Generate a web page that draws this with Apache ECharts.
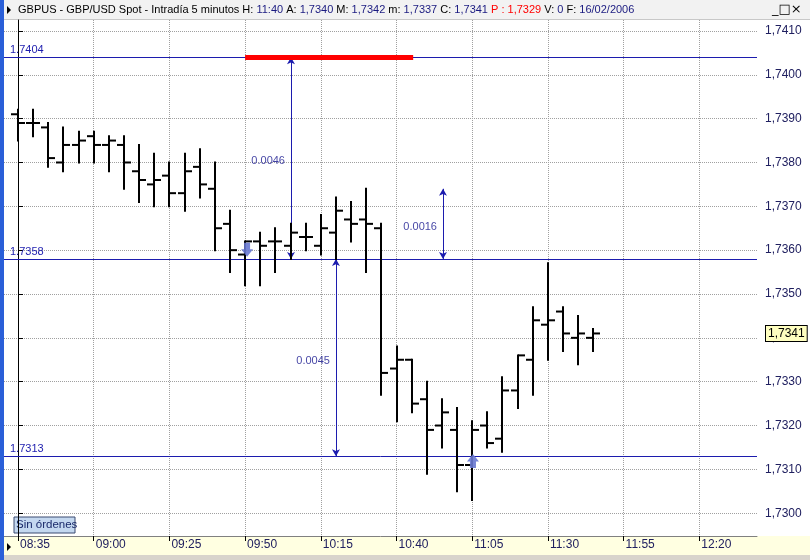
<!DOCTYPE html>
<html><head><meta charset="utf-8">
<script src="https://cdn.jsdelivr.net/npm/echarts@6/dist/echarts.min.js"></script>
<style>html,body{margin:0;padding:0;background:#fff}#c{width:810px;height:560px}</style>
</head><body><div id="c"></div>
<script>
// ---- data ----
const times = ['08:35','08:40','08:45','08:50','08:55','09:00','09:05','09:10','09:15','09:20',
  '09:25','09:30','09:35','09:40','09:45','09:50','09:55','10:00','10:05','10:10',
  '10:15','10:20','10:25','10:30','10:35','10:40','10:45','10:50','10:55','11:00',
  '11:05','11:10','11:15','11:20','11:25','11:30','11:35','11:40','11:45'];
const openP  = [1.7391,1.7389,1.7388,1.7380,1.7384,1.7386,1.7384,1.7384,1.7378,1.7375,
  1.7377,1.7373,1.7379,1.7374,1.7366,1.7359,1.7362,1.7362,1.7361,1.7363,
  1.7361,1.7364,1.7367,1.7367,1.7365,1.7333,1.7335,1.7326,1.7320,1.7319,
  1.7311,1.7320,1.7317,1.7328,1.7335,1.7343,1.7346,1.7340,1.7340];
const highP  = [1.7392,1.7392,1.7389,1.7388,1.7387,1.7387,1.7386,1.7386,1.7384,1.7382,
  1.7380,1.7382,1.7383,1.7380,1.7369,1.7362,1.7364,1.7365,1.7366,1.7366,
  1.7368,1.7372,1.7371,1.7374,1.7366,1.7338,1.7335,1.7330,1.7326,1.7324,
  1.7321,1.7323,1.7331,1.7336,1.7347,1.7357,1.7347,1.7345,1.7342];
const lowP   = [1.7385,1.7386,1.7379,1.7378,1.7380,1.7380,1.7378,1.7374,1.7371,1.7370,
  1.7370,1.7369,1.7372,1.7360,1.7355,1.7352,1.7352,1.7355,1.7358,1.7360,
  1.7359,1.7358,1.7362,1.7355,1.7327,1.7321,1.7323,1.7309,1.7315,1.7305,
  1.7303,1.7315,1.7314,1.7324,1.7327,1.7335,1.7337,1.7334,1.7337];
const closeP = [1.7389,1.7389,1.7381,1.7384,1.7385,1.7384,1.7385,1.7380,1.7376,1.7376,
  1.7373,1.7378,1.7375,1.7365,1.7360,1.7362,1.7361,1.7362,1.7364,1.7363,
  1.7365,1.7369,1.7366,1.7366,1.7332,1.7335,1.7325,1.7319,1.7323,1.7311,
  1.7319,1.7316,1.7328,1.7336,1.7344,1.7344,1.7341,1.7341,1.7341];
const xTickIdx    = [0,5,10,15,20,25,30,35,40,45];
const xTickLabels = ['08:35','09:00','09:25','09:50','10:15','10:40','11:05','11:30','11:55','12:20'];
const yTicks = [1.7300,1.7310,1.7320,1.7330,1.7340,1.7350,1.7360,1.7370,1.7380,1.7390,1.7400,1.7410];
const levelValues = [1.7404,1.7358,1.7313];
const levelLabels = ['1.7404','1.7358','1.7313'];
const redFromIdx = 15, redToIdx = 26.1, redPrice = 1.7404;
const measureIdx   = [18.03, 28.07, 21.0];
const measureFrom  = [1.7404, 1.7374, 1.7358];
const measureTo    = [1.7358, 1.7358, 1.7313];
const measureText  = ['0.0046','0.0016','0.0045'];
const measureLblY  = [1.73804, 1.73653, 1.73347];
const orderDownIdx = 15.13, orderDownPrice = 1.73601;
const orderUpIdx = 30.05, orderUpPrice = 1.73119;
const lastPrice = 1.7341;

// ---- chart ----
const chart = echarts.init(document.getElementById('c'), null, {renderer:'canvas'});
const NAVY = '#1c1cae', LBL = '#202060';
const FN = 'Liberation Sans Narrow, Liberation Sans, Arial';
const ohlc = times.map((t,i)=>[i, openP[i], highP[i], lowP[i], closeP[i]]);

function renderItem(params, api){
  const x = api.value(0);
  const o = api.coord([x, api.value(1)]);
  const h = api.coord([x, api.value(2)]);
  const l = api.coord([x, api.value(3)]);
  const c = api.coord([x, api.value(4)]);
  const px = Math.round(o[0]);
  const st = {stroke:'#000', lineWidth:2};
  return {type:'group', children:[
    {type:'line', shape:{x1:px, y1:h[1]-1, x2:px, y2:l[1]+1}, style:st},
    {type:'line', shape:{x1:px-7, y1:o[1], x2:px, y2:o[1]}, style:st},
    {type:'line', shape:{x1:px, y1:c[1], x2:px+7, y2:c[1]}, style:st}
  ]};
}

function renderLevel(params, api){
  const y = Math.round(api.coord([0, api.value(1)])[1]) + 0.5;
  const cs = params.coordSys;
  return {type:'group', children:[
    {type:'line', shape:{x1:cs.x, y1:y, x2:cs.x + cs.width, y2:y},
      style:{stroke:NAVY, lineWidth:1}},
    {type:'text', x:cs.x + 6, y:y - 2,
      style:{text:levelLabels[api.value(2)], fill:NAVY, fontSize:11,
        fontFamily:'Liberation Sans, Arial', align:'left', verticalAlign:'bottom'}}
  ]};
}

const arrowDown = 'path://M3,0 L9,0 L9,6 L12,6 L6,13 L0,6 L3,6 Z';
const arrowUp = 'path://M6,0 L12,7 L9,7 L9,13 L3,13 L3,7 L0,7 Z';

const title = 'GBPUS - GBP/USD Spot - Intradía 5 minutos ';
const option = {
  backgroundColor:'#ffffff',
  animation:false,
  title:{
    text:'{k|' + title + 'H: }{v|11:40}{k| A: }{v|1,7340}{k| M: }{v|1,7342}{k| m: }{v|1,7337}{k| C: }{v|1,7341} {r|P : 1,7329}{k| V: }{v|0}{k| F: }{v|16/02/2006}',
    left:18, top:4, padding:0,
    textStyle:{
      fontSize:11, fontWeight:'normal', fontFamily:FN,
      rich:{
        k:{color:'#000', fontSize:11, fontWeight:'normal', fontFamily:FN},
        v:{color:'#1a1a80', fontSize:11, fontWeight:'normal', fontFamily:FN},
        r:{color:'#ff0000', fontSize:11, fontWeight:'normal', fontFamily:FN}
      }
    }
  },
  graphic:[
    {type:'rect', shape:{x:0,y:0,width:810,height:20}, style:{fill:'#f2f2f2'}, z:-10},
    {type:'line', shape:{x1:0,y1:19.5,x2:810,y2:19.5}, style:{stroke:'#c8c8c8',lineWidth:1}, z:-9},
    {type:'polygon', shape:{points:[[7,6],[11,10],[7,14]]}, style:{fill:'#000'}, z:5},
    {type:'text', x:772, y:3, style:{text:'_□×', fontSize:13, fill:'#000', fontFamily:'DejaVu Sans'}, z:5},
    {type:'rect', shape:{x:0,y:536,width:810,height:20}, style:{fill:'#ffffe1'}, z:-10},
    {type:'rect', shape:{x:0,y:555,width:810,height:5}, style:{fill:'#d8d4cc'}, z:-9},
    {type:'polygon', shape:{points:[[7,543],[11,547],[7,551]]}, style:{fill:'#000'}, z:5},
    {type:'rect', shape:{x:0,y:0,width:4,height:560}, style:{fill:'#2a5fd8'}, z:100},
    {type:'group', x:14, y:517, z:20, children:[
      {type:'rect', shape:{x:0,y:0,width:61,height:16}, style:{fill:'#c4d8f0', stroke:'#3a4a70', lineWidth:1}},
      {type:'text', x:2, y:2, style:{text:'Sin órdenes', fontSize:11.5, fill:'#1a2a6a', fontFamily:'Liberation Sans, Arial'}}
    ]}
  ],
  grid:{left:4, right:53, top:20, bottom:24, show:true, backgroundColor:'#fff', borderWidth:0},
  xAxis:{
    type:'value', min:-0.925, max:48.81,
    axisLine:{show:true, lineStyle:{color:'#808080', width:1}},
    axisTick:{show:true, length:5, customValues:xTickIdx, lineStyle:{color:'#000'}},
    axisLabel:{show:true, customValues:xTickIdx, align:'left', margin:3, padding:[0,0,0,2],
      color:LBL, fontSize:12, fontFamily:'Liberation Sans, Arial',
      formatter:v=>{const k = xTickIdx.indexOf(Math.round(v)); return k>=0 ? xTickLabels[k] : '';}},
    splitLine:{show:true, lineStyle:{color:'#a0a0a0', type:'dotted', width:1}}
  },
  yAxis:{
    type:'value', position:'right', min:1.72948, max:1.74125, scale:true,
    axisLine:{show:true, lineStyle:{color:'#000', width:1}},
    axisTick:{show:true, length:5, customValues:yTicks, lineStyle:{color:'#000'}},
    axisLabel:{show:true, customValues:yTicks, margin:8, color:LBL, fontSize:12,
      fontFamily:'Liberation Sans, Arial', formatter:v=>v.toFixed(4).replace('.',',')},
    splitLine:{show:true, lineStyle:{color:'#a0a0a0', type:'dotted', width:1}}
  },
  series:[
    {
      type:'custom', name:'levels', renderItem:renderLevel,
      data: levelValues.map((v,i)=>[0, v, i]), encode:{x:0, y:1}, z:3, silent:true
    },
    {
      type:'custom', name:'bars', renderItem:renderItem, data:ohlc,
      encode:{x:0, y:[1,2,3,4]}, z:5, clip:true
    },
    {
      type:'line', name:'measures', data:[], z:6, silent:true, color:NAVY,
      markLine:{
        silent:true, precision:4, symbol:['arrow','arrow'], symbolSize:[6,7],
        lineStyle:{color:NAVY, width:1, type:'solid'},
        label:{show:false},
        data: measureIdx.map((x,i)=>[{coord:[x, measureFrom[i]]},{coord:[x, measureTo[i]]}])
      }
    },
    {
      type:'line', name:'red', data:[], z:7, silent:true, color:'#ff0000',
      markLine:{
        silent:true, precision:4, symbol:['none','none'],
        lineStyle:{color:'#ff0000', width:5, type:'solid', cap:'butt'},
        label:{show:false},
        data:[[{coord:[redFromIdx, redPrice]},{coord:[redToIdx, redPrice]}]]
      }
    },
    {
      type:'scatter', name:'measureLabels', symbolSize:0, z:8, silent:true,
      data: measureIdx.map((x,i)=>({value:[x, measureLblY[i]], name:measureText[i]})),
      label:{show:true, position:'left', distance:6, formatter:p=>p.name, color:'#12128c', fontSize:11,
        fontFamily:'Liberation Sans, Arial'}
    },
    {
      type:'scatter', name:'orders', z:9, silent:true,
      data:[
        {value:[orderDownIdx, orderDownPrice], symbol:arrowDown},
        {value:[orderUpIdx, orderUpPrice], symbol:arrowUp}
      ],
      symbolSize:[12,14],
      itemStyle:{color:'#6878d0', opacity:0.9}
    },
    {
      type:'line', name:'last', data:[], z:10, silent:true, clip:false,
      markLine:{
        silent:true, precision:4, symbol:['none','none'],
        lineStyle:{color:'rgba(0,0,0,0)', width:1},
        label:{show:true, position:'end', distance:9, formatter:'1,7341', color:'#000',
          backgroundColor:'#ffffc0', borderColor:'#000', borderWidth:1, padding:[2,2,1,2],
          fontSize:12, fontFamily:'Liberation Sans, Arial'},
        data:[{yAxis:lastPrice}]
      }
    }
  ]
};
chart.setOption(option);
</script>
</body></html>
